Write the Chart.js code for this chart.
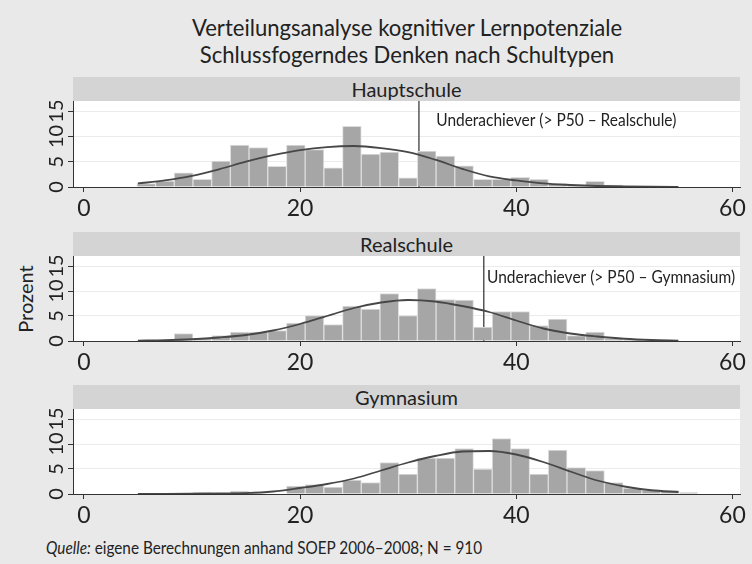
<!DOCTYPE html>
<html>
<head>
<meta charset="utf-8">
<script src="https://cdn.jsdelivr.net/npm/chart.js@4.4.1/dist/chart.umd.min.js"></script>
<style>
  body { margin: 0; width: 752px; height: 564px; overflow: hidden; background: #e9e9e9; font-family: Lato, sans-serif; color: #222; position: relative; }
  .title { position: absolute; left: 0; width: 814px; text-align: center; font-size: 23px; line-height: 23px; transform: scaleX(0.96); transform-origin: 407px 0; white-space: nowrap; }
  .strip { position: absolute; left: 73px; width: 667px; height: 24px; background: #d4d4d4; text-align: center; font-size: 20px; line-height: 24px; }
  .ylab { position: absolute; left: 25px; top: 299px; font-size: 20px; transform: translate(-50%, -50%) rotate(-90deg); white-space: nowrap; }
  .source { position: absolute; left: 46px; top: 538px; font-size: 17px; line-height: 20px; white-space: nowrap; transform: scaleX(0.9); transform-origin: 0 0; }
  canvas { position: absolute; left: 0; }
</style>
</head>
<body>
<div class="title" style="top:16px">Verteilungsanalyse kognitiver Lernpotenziale</div>
<div class="title" style="top:43px">Schlussfogerndes Denken nach Schultypen</div>

<div class="strip" style="top:77px">Hauptschule</div>
<div class="strip" style="top:232px">Realschule</div>
<div class="strip" style="top:385px">Gymnasium</div>
<div class="ylab">Prozent</div>

<canvas id="c1" width="752" height="126" style="top:101px"></canvas>
<canvas id="c2" width="752" height="125" style="top:256px"></canvas>
<canvas id="c3" width="752" height="125" style="top:409px"></canvas>

<div class="source"><i>Quelle:</i> eigene Berechnungen anhand SOEP 2006–2008; N = 910</div>

<script>
// bin centres of the histogram (bin width ~1.73)
const binCenters = [5.77, 7.50, 9.23, 10.96, 12.69, 14.42, 16.15, 17.88, 19.61, 21.34,
                    23.07, 24.80, 26.53, 28.26, 29.99, 31.72, 33.45, 35.18, 36.91, 38.64,
                    40.37, 42.10, 43.83, 45.56, 47.29, 49.02, 50.75, 52.48, 54.21, 55.94];

// percent per bin
const hauptschule = [0.7, 1.15, 2.8, 1.5, 5.1, 8.3, 7.8, 4.1, 8.3, 7.4,
                     3.8, 12.0, 6.5, 6.9, 1.8, 7.1, 6.1, 4.2, 1.5, 1.5,
                     1.9, 1.5, 0.7, 0.3, 1.1, 0.4, 0.15, 0, 0, 0];
const realschule = [0.1, 0, 1.5, 0.5, 1.1, 1.8, 1.8, 2.1, 3.6, 5.1,
                    3.3, 7.0, 6.4, 9.5, 5.1, 10.5, 8.3, 8.2, 2.8, 5.9,
                    5.9, 3.1, 4.4, 1.1, 1.8, 0.5, 0.2, 0.1, 0, 0];
const gymnasium = [0, 0, 0, 0.3, 0, 0.6, 0, 0, 1.6, 1.9,
                   1.4, 2.8, 2.3, 6.3, 4.0, 7.2, 7.2, 9.1, 5.0, 11.1,
                   9.1, 4.0, 8.8, 5.3, 4.7, 2.3, 1.2, 0.8, 0.7, 0.3];

// normal curves
const curveX = [5, 7.5, 10, 12.5, 15, 17.5, 20, 22.5, 25, 27.5, 30,
                32.5, 35, 37.5, 40, 42.5, 45, 47.5, 50, 52.5, 55];
const hauptCurve = [0.7, 1.3, 2.2, 3.5, 5.0, 6.3, 7.3, 7.9, 8.1, 7.7, 6.9,
                    5.4, 3.6, 2.1, 1.3, 0.7, 0.4, 0.2, 0.1, 0.05, 0.02];
const realCurve = [0.08, 0.15, 0.35, 0.7, 1.2, 2.1, 3.4, 5.0, 6.6, 7.7, 8.2,
                   7.9, 7.0, 5.8, 4.1, 2.5, 1.5, 0.9, 0.45, 0.2, 0.08];
const gymCurve = [0.01, 0.02, 0.05, 0.1, 0.18, 0.5, 1.2, 2.0, 3.1, 4.7, 6.3,
                  7.6, 8.5, 8.6, 7.9, 6.4, 4.5, 2.7, 1.5, 0.75, 0.4];

const xTicks = [0, 20, 40, 60];
const yTicks = [0, 5, 10, 15];
const yMax = 17;

const plotBg = {
    id: 'plotBg',
    beforeDraw(chart) {
        const { ctx, chartArea: a } = chart;
        ctx.save();
        ctx.fillStyle = '#ffffff';
        ctx.fillRect(a.left, a.top, a.width, a.height);
        ctx.restore();
    }
};

// reference font is narrower than Lato, so squeeze the note a bit
const noteText = {
    id: 'noteText',
    afterDatasetsDraw(chart, args, opts) {
        if (!opts.text) return;
        const { ctx, scales } = chart;
        const px = scales.x.getPixelForValue(opts.x);
        const py = scales.y.getPixelForValue(opts.y);
        ctx.save();
        ctx.translate(px, py);
        ctx.scale(0.86, 1);
        ctx.font = '18px Lato';
        ctx.fillStyle = '#222';
        ctx.textBaseline = 'middle';
        ctx.fillText(opts.text, 0, 0);
        ctx.restore();
    }
};

function makePanel(id, values, curve, marker, note) {
    const datasets = [
        {
            type: 'bar',
            data: binCenters.map((x, i) => ({ x: x, y: values[i] })),
            backgroundColor: '#a6a6a6',
            borderColor: '#dedede',
            borderWidth: 1,
            barPercentage: 1,
            categoryPercentage: 1,
            order: 2
        },
        {
            type: 'line',
            data: curveX.map((x, i) => ({ x: x, y: curve[i] })),
            borderColor: '#474747',
            borderWidth: 1.8,
            pointRadius: 0,
            cubicInterpolationMode: 'monotone',
            fill: false,
            order: 1
        }
    ];
    if (marker !== null) {
        datasets.push({
            type: 'line',
            data: [{ x: marker, y: 0 }, { x: marker, y: yMax }],
            borderColor: '#3c3c3c',
            borderWidth: 1.3,
            pointRadius: 0,
            order: 3
        });
    }

    return new Chart(document.getElementById(id).getContext('2d'), {
        type: 'bar',
        data: { datasets: datasets },
        plugins: [plotBg, noteText],
        options: {
            responsive: false,
            animation: false,
            devicePixelRatio: 1,
            layout: { padding: { top: 0, right: 12, bottom: 0, left: 0 } },
            plugins: {
                legend: { display: false },
                tooltip: { enabled: false },
                noteText: note
            },
            scales: {
                x: {
                    type: 'linear',
                    min: -1,
                    max: 60.7,
                    offset: false,
                    afterBuildTicks: s => { s.ticks = xTicks.map(v => ({ value: v })); },
                    afterFit: s => { s.height = 40; s.paddingLeft = 0; s.paddingRight = 0; },
                    ticks: { font: { family: 'Lato', size: 23 }, color: '#222', padding: 3, maxRotation: 0 },
                    grid: { drawOnChartArea: false, offset: false, tickColor: '#333', tickLength: 5 },
                    border: { color: '#333', width: 1 }
                },
                y: {
                    min: 0,
                    max: yMax,
                    afterBuildTicks: s => { s.ticks = yTicks.map(v => ({ value: v })); },
                    afterFit: s => { s.width = 73; s.paddingTop = 0; s.paddingBottom = 0; },
                    ticks: {
                        font: { family: 'Lato', size: 20 },
                        color: '#222',
                        minRotation: 90,
                        maxRotation: 90,
                        crossAlign: 'center',
                        padding: 0
                    },
                    grid: { color: '#ebebeb', tickColor: '#333', tickLength: 5 },
                    border: { color: '#333', width: 1 }
                }
            }
        }
    });
}

makePanel('c1', hauptschule, hauptCurve, 31.0, { text: 'Underachiever (> P50 – Realschule)', x: 32.6, y: 13.2 });
makePanel('c2', realschule, realCurve, 37.0, { text: 'Underachiever (> P50 – Gymnasium)', x: 37.3, y: 12.7 });
makePanel('c3', gymnasium, gymCurve, null, {});
</script>
</body>
</html>
